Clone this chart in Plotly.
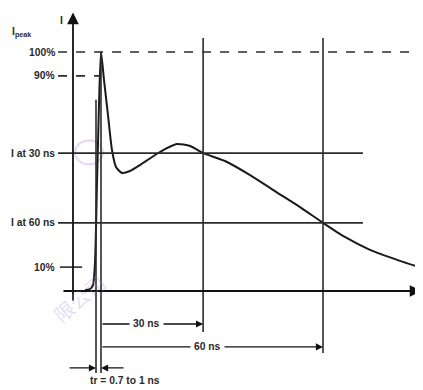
import plotly.graph_objects as go

# ---- data (schematic units: t in ns-like diagram units, I in % of I_peak) ----
curve_t = [-4.32, -2.97, -2.16, -1.62, -1.08, -0.54, 0.0, 0.81, 1.89, 2.97, 4.05,
           5.68, 7.84, 10.54, 14.6, 17.3, 20.5, 24.1, 27.6, 33.5, 40.3, 47.0,
           53.8, 60.0, 65.9, 72.7, 80.8, 86.8]
curve_i = [0.4, 0.8, 2.5, 12.0, 45.0, 78.0, 100.0, 88.3, 73.6, 59.0, 51.9,
           49.4, 50.2, 52.7, 56.9, 59.4, 61.5, 60.7, 57.7, 54.4, 48.5, 41.8,
           35.1, 28.5, 22.6, 17.2, 12.6, 9.6]

level_labels = ["100%", "90%", "I at 30 ns", "I at 60 ns", "10%"]
level_values = [100, 90, 57.7, 28.5, 10]

marker_labels = ["30 ns", "60 ns"]
marker_t = [27.6, 60.0]
t_rise = -1.35
t_peak = 0.0
tr_label = "tr = 0.7 to 1 ns"

# ---- axis ranges for the diagram canvas (page body keeps an 8px margin) ----
X_RANGE = [-25.135, 87.027]
Y_RANGE = [-41.42, 118.41]

LINE = "#2b2b2b"
FAM = "Liberation Sans, Arial, sans-serif"
FONT = dict(family=FAM, size=10.3, color="#2a2a2a")


def bold(s):
    return "<b>" + s + "</b>"


fig = go.Figure()

# waveform
fig.add_trace(go.Scatter(x=curve_t, y=curve_i, mode="lines",
                         line=dict(color="#1a1a1a", width=2, shape="spline", smoothing=0.6),
                         hoverinfo="skip", showlegend=False))

shapes = []
annotations = []
left_x = -11.6

# level lines
for lab, v in zip(level_labels, level_values):
    if lab == "100%":
        shapes.append(dict(type="line", x0=left_x, x1=X_RANGE[1], y0=v, y1=v,
                           line=dict(color=LINE, width=1.6, dash="dash")))
    elif lab == "90%":
        shapes.append(dict(type="line", x0=left_x, x1=-0.3, y0=v, y1=v,
                           line=dict(color=LINE, width=1.6, dash="dash")))
    elif lab == "10%":
        shapes.append(dict(type="line", x0=-11.1, x1=-5.1, y0=v, y1=v,
                           line=dict(color=LINE, width=1.6)))
    else:
        shapes.append(dict(type="line", x0=left_x, x1=70.8, y0=v, y1=v,
                           line=dict(color=LINE, width=1.6)))
    annotations.append(dict(x=-11.9, y=v, text=bold(lab), showarrow=False, xanchor="right",
                            yanchor="middle", font=FONT))

# axes of the diagram
annotations.append(dict(x=-7.57, y=116.5, ax=-7.57, ay=-4.6, axref="x", ayref="y",
                        xref="x", yref="y", text="", showarrow=True, arrowhead=2,
                        arrowsize=1.3, arrowwidth=1.8, arrowcolor="#111", standoff=0))
annotations.append(dict(x=86.6, y=0, ax=-10.54, ay=0, axref="x", ayref="y",
                        xref="x", yref="y", text="", showarrow=True, arrowhead=2,
                        arrowsize=1.3, arrowwidth=1.8, arrowcolor="#111", standoff=0))

# vertical marker lines
shapes.append(dict(type="line", x0=t_rise, x1=t_rise, y0=80, y1=-34.3,
                   line=dict(color=LINE, width=1.6)))
shapes.append(dict(type="line", x0=t_peak, x1=t_peak, y0=100, y1=-34.3,
                   line=dict(color=LINE, width=1.6)))
vert_bottoms = [-17.2, -25.9]
arrow_ys = [-13.8, -23.4]
label_ts = [12.2, 28.9]
for lab, t, yb, ya, lt in zip(marker_labels, marker_t, vert_bottoms, arrow_ys, label_ts):
    shapes.append(dict(type="line", x0=t, x1=t, y0=105.9, y1=yb,
                       line=dict(color=LINE, width=1.6)))
    annotations.append(dict(x=t, y=ya, ax=t_peak, ay=ya, axref="x", ayref="y",
                            xref="x", yref="y", text="", showarrow=True, arrowhead=2,
                            arrowsize=1.1, arrowwidth=1.3, arrowcolor="#111", standoff=0))
    annotations.append(dict(x=lt, y=ya, text=bold(lab), showarrow=False, bgcolor="white",
                            borderpad=3, font=FONT))

# rise-time arrows
annotations.append(dict(x=t_rise, y=-32.2, ax=-8.9, ay=-32.2, axref="x", ayref="y",
                        xref="x", yref="y", text="", showarrow=True, arrowhead=2,
                        arrowsize=1.1, arrowwidth=1.3, arrowcolor="#111", standoff=0))
annotations.append(dict(x=t_peak, y=-32.2, ax=6.5, ay=-32.2, axref="x", ayref="y",
                        xref="x", yref="y", text="", showarrow=True, arrowhead=2,
                        arrowsize=1.1, arrowwidth=1.3, arrowcolor="#111", standoff=0))
annotations.append(dict(x=6.6, y=-37.4, text=bold(tr_label), showarrow=False, font=FONT))

# axis labels
annotations.append(dict(x=-10.8, y=113.0, text=bold("I"), showarrow=False, font=FONT))
annotations.append(dict(x=-24.6, y=108.0, text=bold("I<sub>peak</sub>"), showarrow=False,
                        xanchor="left", font=FONT))
annotations.append(dict(x=85.6, y=-4.0, text=bold("t"), showarrow=False,
                        font=dict(family=FAM, size=10.5, color="#2a2a2a")))

# faint watermark
annotations.append(dict(x=-6.0, y=-3.0, text="限公司", showarrow=False, textangle=-40,
                        font=dict(family="Noto Sans CJK SC", size=20,
                                  color="rgba(170,140,215,0.30)")))
shapes.append(dict(type="circle", x0=-7.0, x1=0.5, y0=53, y1=63, layer="below",
                   line=dict(color="rgba(170,140,215,0.30)", width=2.5)))

fig.update_layout(
    width=415, height=382, margin=dict(l=0, r=0, t=0, b=0),
    plot_bgcolor="white", paper_bgcolor="white",
    xaxis=dict(range=X_RANGE, visible=False, fixedrange=True),
    yaxis=dict(range=Y_RANGE, visible=False, fixedrange=True),
    shapes=shapes, annotations=annotations, showlegend=False,
)

fig.write_html("out.html")
